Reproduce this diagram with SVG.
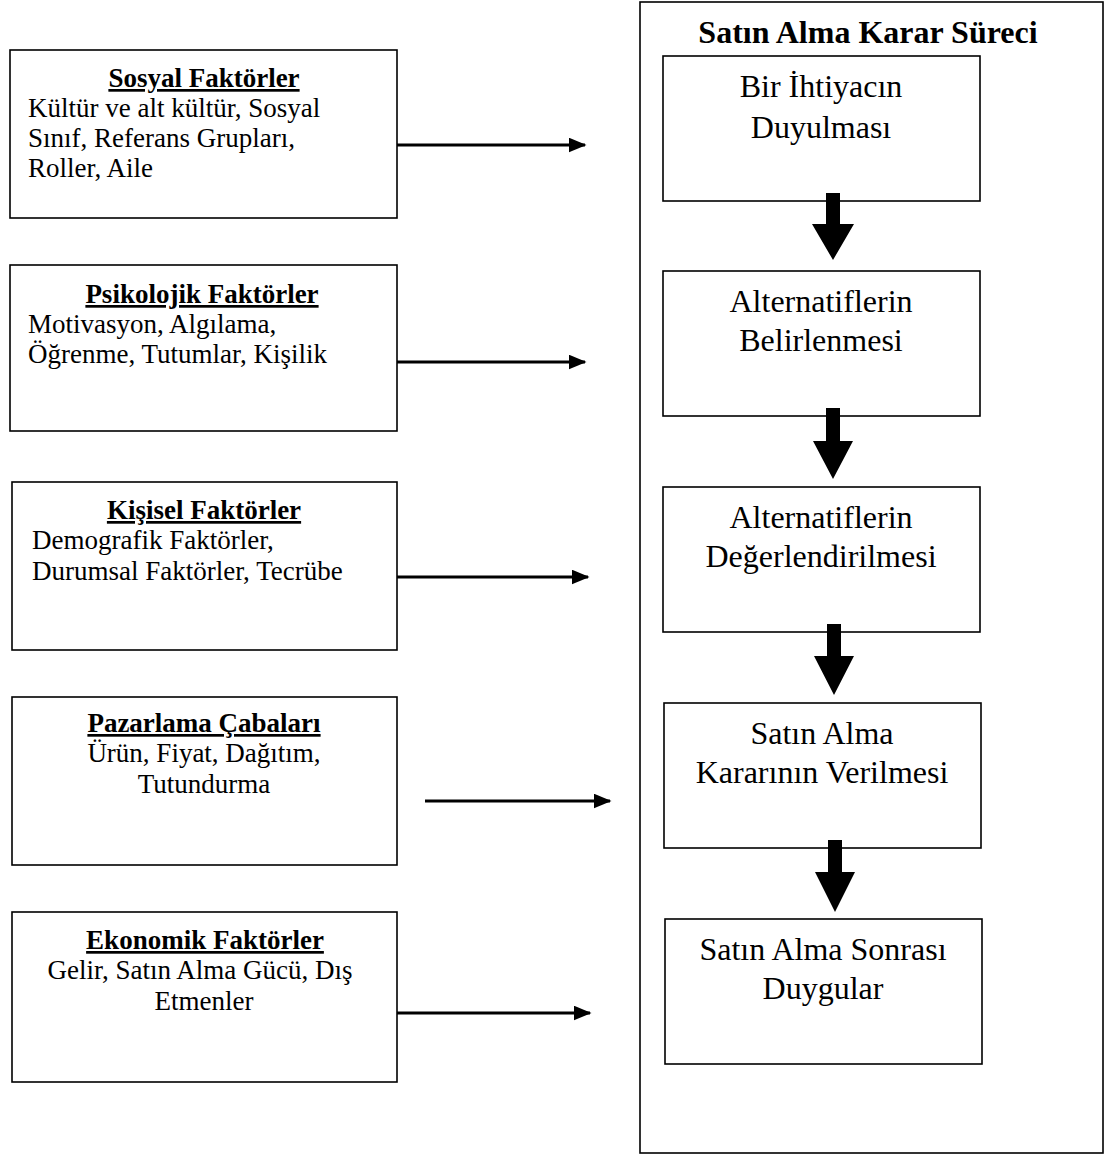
<svg xmlns="http://www.w3.org/2000/svg" width="1111" height="1156" viewBox="0 0 1111 1156">
<style>
.box{fill:#fff;stroke:#000;stroke-width:1.6}
.t{font-family:'Liberation Serif','Times New Roman','DejaVu Serif',serif;font-size:27px;fill:#000}
.h{font-size:27px;font-weight:bold;text-decoration:underline}
.r{font-family:'Liberation Serif','Times New Roman','DejaVu Serif',serif;font-size:32px;fill:#000}
.hl{stroke:#000;stroke-width:3;fill:none}
</style>
<defs>
<marker id="ah" markerWidth="6" markerHeight="5" refX="5.5" refY="2.5" orient="auto" markerUnits="strokeWidth">
<path d="M0,0 L6,2.5 L0,5 Z" fill="#000"/>
</marker>
</defs>
<rect width="1111" height="1156" fill="#fff"/>
<g id="process">
<rect class="box" x="640" y="2" width="463" height="1151"/>
<text class="r" x="868" y="43" text-anchor="middle" font-weight="bold">Satın Alma Karar Süreci</text>
</g>
<g id="s1">
<rect class="box" x="663" y="56" width="317" height="145"/>
<text class="r" text-anchor="middle" x="821" y="97">Bir İhtiyacın</text>
<text class="r" text-anchor="middle" x="821" y="138">Duyulması</text>
</g>
<g id="s2">
<rect class="box" x="663" y="271" width="317" height="145"/>
<text class="r" text-anchor="middle" x="821" y="312">Alternatiflerin</text>
<text class="r" text-anchor="middle" x="821" y="351">Belirlenmesi</text>
</g>
<g id="s3">
<rect class="box" x="663" y="487" width="317" height="145"/>
<text class="r" text-anchor="middle" x="821" y="528">Alternatiflerin</text>
<text class="r" text-anchor="middle" x="821" y="567">Değerlendirilmesi</text>
</g>
<g id="s4">
<rect class="box" x="664" y="703" width="317" height="145"/>
<text class="r" text-anchor="middle" x="822" y="744">Satın Alma</text>
<text class="r" text-anchor="middle" x="822" y="783">Kararının Verilmesi</text>
</g>
<g id="s5">
<rect class="box" x="665" y="919" width="317" height="145"/>
<text class="r" text-anchor="middle" x="823" y="960">Satın Alma Sonrası</text>
<text class="r" text-anchor="middle" x="823" y="999">Duygular</text>
</g>
<g id="f1">
<rect class="box" x="10" y="50" width="387" height="168"/>
<text class="t h" text-anchor="middle" x="204" y="87">Sosyal Faktörler</text>
<text class="t" x="28" y="117">Kültür ve alt kültür, Sosyal</text>
<text class="t" x="28" y="147">Sınıf, Referans Grupları,</text>
<text class="t" x="28" y="177">Roller, Aile</text>
</g>
<g id="f2">
<rect class="box" x="10" y="265" width="387" height="166"/>
<text class="t h" text-anchor="middle" x="202" y="303">Psikolojik Faktörler</text>
<text class="t" x="28" y="333">Motivasyon, Algılama,</text>
<text class="t" x="28" y="363">Öğrenme, Tutumlar, Kişilik</text>
</g>
<g id="f3">
<rect class="box" x="12" y="482" width="385" height="168"/>
<text class="t h" text-anchor="middle" x="204" y="519">Kişisel Faktörler</text>
<text class="t" x="32" y="549">Demografik Faktörler,</text>
<text class="t" x="32" y="580">Durumsal Faktörler, Tecrübe</text>
</g>
<g id="f4">
<rect class="box" x="12" y="697" width="385" height="168"/>
<text class="t h" text-anchor="middle" x="204" y="732">Pazarlama Çabaları</text>
<text class="t" text-anchor="middle" x="204" y="762">Ürün, Fiyat, Dağıtım,</text>
<text class="t" text-anchor="middle" x="204" y="793">Tutundurma</text>
</g>
<g id="f5">
<rect class="box" x="12" y="912" width="385" height="170"/>
<text class="t h" text-anchor="middle" x="205" y="949">Ekonomik Faktörler</text>
<text class="t" text-anchor="middle" x="200" y="979">Gelir, Satın Alma Gücü, Dış</text>
<text class="t" text-anchor="middle" x="204" y="1010">Etmenler</text>
</g>
<g id="connectors">
<line class="hl" x1="397" y1="145" x2="585" y2="145" marker-end="url(#ah)"/>
<line class="hl" x1="397" y1="362" x2="585" y2="362" marker-end="url(#ah)"/>
<line class="hl" x1="397" y1="577" x2="588" y2="577" marker-end="url(#ah)"/>
<line class="hl" x1="425" y1="801" x2="610" y2="801" marker-end="url(#ah)"/>
<line class="hl" x1="397" y1="1013" x2="590" y2="1013" marker-end="url(#ah)"/>
<path d="M826,193 H840 V224 H854 L833,260 L812,224 H826 Z" fill="#000"/>
<path d="M826,408 H840 V441 H853 L833,479 L813,441 H826 Z" fill="#000"/>
<path d="M827,624 H841 V656 H854 L834,695 L814,656 H827 Z" fill="#000"/>
<path d="M828,840 H842 V872 H855 L835,912 L815,872 H828 Z" fill="#000"/>
</g>
</svg>
